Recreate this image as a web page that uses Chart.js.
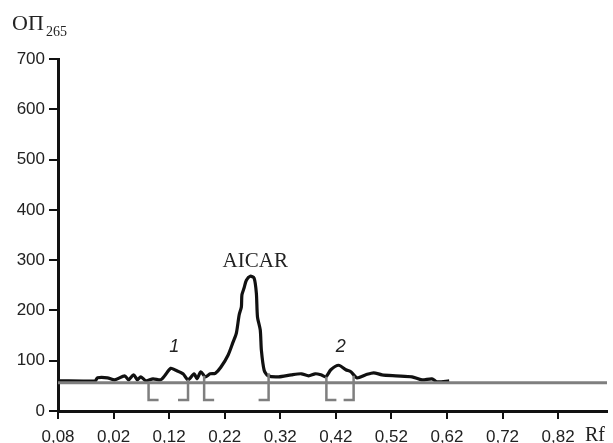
<!DOCTYPE html>
<html>
<head>
<meta charset="utf-8">
<script src="https://cdn.jsdelivr.net/npm/chart.js@4/dist/chart.umd.min.js"></script>
<style>
  body { margin: 0; background: #fff; }
  #wrap { width: 613px; height: 443px; }
</style>
</head>
<body>
<div id="wrap"><canvas id="graph" width="613" height="443"></canvas></div>
<script>
// данные кривой (Rf, ОП265)
const curveRf = [-0.08, -0.013, -0.009, 0.009, 0.022, 0.040, 0.047, 0.056, 0.063, 0.069, 0.078, 0.091,
    0.105, 0.112, 0.123, 0.132, 0.145, 0.154, 0.165, 0.170, 0.177, 0.185, 0.194, 0.203, 0.213,
    0.226, 0.235, 0.241, 0.246, 0.250, 0.251, 0.255, 0.259, 0.266, 0.273, 0.277, 0.279, 0.284,
    0.286, 0.291, 0.298, 0.317, 0.340, 0.358, 0.371, 0.383, 0.393, 0.402, 0.411, 0.425, 0.438,
    0.447, 0.458, 0.474, 0.488, 0.503, 0.528, 0.557, 0.575, 0.593, 0.602, 0.624];
const curveOD = [60, 60, 66, 66, 62, 70, 62, 72, 62, 68, 60, 64,
    62, 70, 85, 81, 74, 62, 74, 64, 78, 68, 74, 75, 87,
    111, 137, 155, 191, 207, 231, 245, 260, 268, 264, 234, 187, 161,
    121, 81, 70, 68, 72, 74, 70, 74, 72, 68, 82, 91, 82,
    78, 66, 72, 76, 72, 70, 68, 62, 64, 58, 60];

// серая базовая линия
const baseRf = [-0.08, 0.908];
const baseOD = [56, 56];

// скобки зон
const bracketRf = [0.083, 0.154, 0.183, 0.299, 0.403, 0.452];
const bracketDir = [1, -1, 1, -1, 1, -1];
const bracketTop = [56, 62, 70, 75, 68, 70];
const bracketFoot = 22;
const bracketLen = 0.018;

// подписи пиков
const peakText = ['1', 'AICAR', '2'];
const peakRf = [0.129, 0.275, 0.429];
const peakOD = [117, 286, 117];

// оси
const xTicks = [-0.08, 0.02, 0.12, 0.22, 0.32, 0.42, 0.52, 0.62, 0.72, 0.82];
const xTickLabels = ['0,08', '0,02', '0,12', '0,22', '0,32', '0,42', '0,52', '0,62', '0,72', '0,82'];
const yMax = 700;
const yStep = 100;

const datasets = [];
datasets.push({
    data: baseRf.map((x, i) => ({x: x, y: baseOD[i]})),
    borderColor: '#7f7f7f',
    borderWidth: 3,
    pointRadius: 0,
});
bracketRf.forEach(function(x, i) {
    datasets.push({
        data: [
            {x: x + bracketDir[i] * bracketLen, y: bracketFoot},
            {x: x, y: bracketFoot},
            {x: x, y: bracketTop[i]}
        ],
        borderColor: '#7f7f7f',
        borderWidth: 2.5,
        pointRadius: 0,
        borderJoinStyle: 'miter',
    });
});
datasets.push({
    data: curveRf.map((x, i) => ({x: x, y: curveOD[i]})),
    borderColor: '#111',
    borderWidth: 3.2,
    pointRadius: 0,
    tension: 0.25,
});

const textPlugin = {
    id: 'texts',
    afterDraw(chart) {
        const c = chart.ctx;
        const xs = chart.scales.x, ys = chart.scales.y;
        c.save();
        c.fillStyle = '#222';
        c.textAlign = 'center';
        c.textBaseline = 'alphabetic';
        peakText.forEach(function(t, i) {
            const px = xs.getPixelForValue(peakRf[i]);
            const py = ys.getPixelForValue(peakOD[i]);
            if (t === 'AICAR') {
                c.font = '21px "Liberation Serif", "DejaVu Serif", serif';
            } else {
                c.font = 'italic 18px "Liberation Sans", Arial, sans-serif';
            }
            c.fillText(t, px, py);
        });
        // подпись оси Y
        c.textAlign = 'left';
        c.font = '22px "Liberation Serif", serif';
        c.fillText('ОП', 12, 30);
        c.font = '14px "Liberation Serif", serif';
        c.fillText('265', 46, 36);
        // подпись оси X
        c.font = '20px "Liberation Serif", serif';
        c.fillText('Rf', 585, 441);
        c.restore();
    }
};

const ctx = document.getElementById('graph').getContext('2d');
const graph = new Chart(ctx, {
    type: 'line',
    data: { datasets: datasets },
    options: {
        responsive: false,
        animation: false,
        layout: { padding: { top: 59, right: 6, left: 0, bottom: 0 } },
        scales: {
            x: {
                type: 'linear',
                min: -0.08,
                max: 0.908,
                afterBuildTicks: function(scale) {
                    scale.ticks = xTicks.map(v => ({value: v}));
                },
                afterFit: function(scale) { scale.height = 32; },
                ticks: {
                    autoSkip: false,
                    maxRotation: 0,
                    padding: 8,
                    color: '#222',
                    font: { family: '"Liberation Sans", Arial, sans-serif', size: 17 },
                    callback: function(v, i) { return xTickLabels[i]; }
                },
                grid: { drawOnChartArea: false, drawTicks: true, tickLength: 8, color: '#111', lineWidth: 2 },
                border: { display: true, color: '#111', width: 3 }
            },
            y: {
                min: 0,
                max: yMax,
                afterFit: function(scale) { scale.width = 58; },
                ticks: {
                    stepSize: yStep,
                    padding: 4,
                    color: '#222',
                    font: { family: '"Liberation Sans", Arial, sans-serif', size: 17 }
                },
                grid: { drawOnChartArea: false, drawTicks: true, tickLength: 9, color: '#111', lineWidth: 2 },
                border: { display: true, color: '#111', width: 3 }
            }
        },
        plugins: {
            legend: { display: false },
            tooltip: { enabled: false }
        }
    },
    plugins: [textPlugin]
});
</script>
</body>
</html>
